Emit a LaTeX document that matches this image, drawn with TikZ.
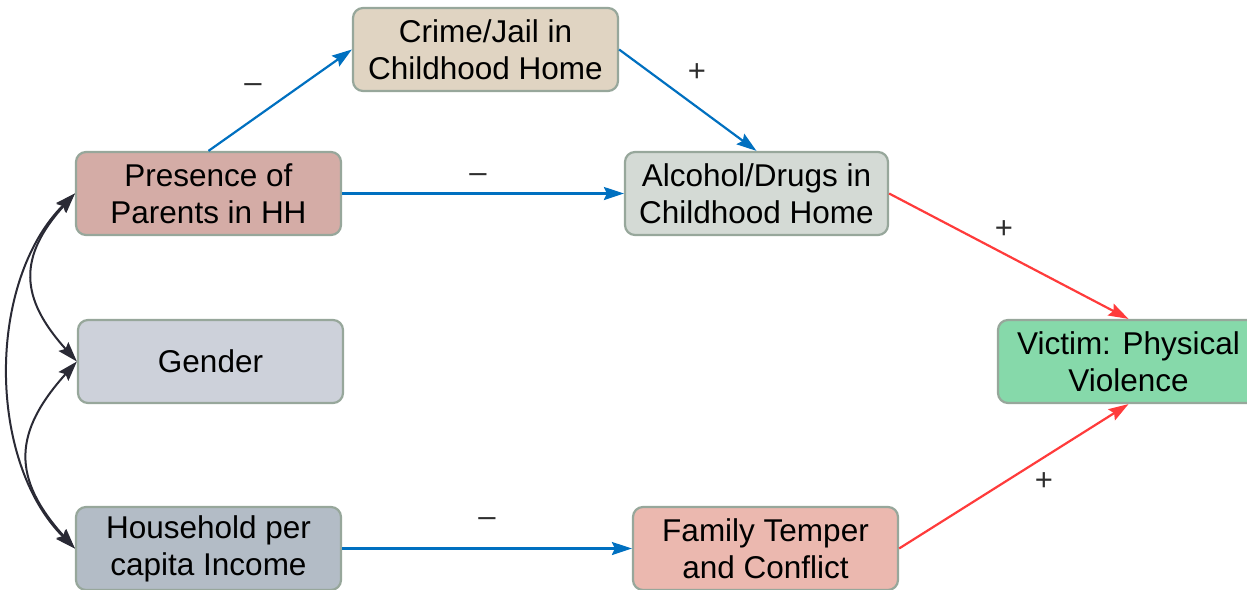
\documentclass[tikz,border=0pt]{standalone}
\usepackage{fontspec}
\setmainfont{Liberation Sans}
\usetikzlibrary{arrows.meta}
\definecolor{edgeblue}{HTML}{0070C0}
\definecolor{edgered}{HTML}{FF3B3B}
\definecolor{edgedark}{HTML}{2A2A35}
\definecolor{boxline}{HTML}{97A79B}
\definecolor{labelgray}{HTML}{2E2E2E}
\tikzset{
  varbox/.style={draw=boxline, line width=2.2pt, rounded corners=10pt,
    minimum width=265pt, minimum height=83pt, inner sep=0pt,
    align=center, font=\fontsize{31.5}{37}\selectfont},
  tiphead/.tip={Stealth[length=20pt,width=13pt,inset=3pt]},
  negpath/.style={-tiphead, draw=edgeblue, line width=2.2pt},
  pospath/.style={-tiphead, draw=edgered, line width=2.2pt},
  corrpath/.style={tiphead-tiphead, draw=edgedark, line width=2pt},
  signlabel/.style={inner sep=0pt, text=labelgray, font=\fontsize{31}{36}\selectfont}
}
\begin{document}
\begin{tikzpicture}[x=1pt,y=-1pt]
  \useasboundingbox (0,0) rectangle (1247,589);
  \begin{scope}
  \clip (0,0) rectangle (1247,589);

  % variables
  \node[varbox, fill={rgb,255:red,224;green,212;blue,194}] (crime) at (485.5,49.5) {Crime/Jail in\\Childhood Home};
  \node[varbox, fill={rgb,255:red,212;green,172;blue,166}] (pres) at (208.5,193.5) {Presence of\\Parents in HH};
  \node[varbox, minimum width=263pt, fill={rgb,255:red,212;green,218;blue,213}] (alc) at (756.5,193.5) {Alcohol/Drugs in\\Childhood Home};
  \node[varbox, fill={rgb,255:red,205;green,209;blue,218}] (gender) at (210.5,361.5) {Gender};
  \node[varbox, minimum width=261pt, fill={rgb,255:red,134;green,217;blue,170}] (victim) at (1128.5,361.5) {Victim: Physical\\Violence};
  \node[varbox, fill={rgb,255:red,179;green,188;blue,198}] (hh) at (208.5,548.5) {Household per\\capita Income};
  \node[varbox, fill={rgb,255:red,235;green,184;blue,175}] (fam) at (765.5,548.5) {Family Temper\\and Conflict};

  % directed effects
  \draw[negpath] (pres.north) -- (crime.west);
  \draw[negpath] (crime.east) -- (alc.north);
  \draw[negpath] (pres.east) -- (alc.west);
  \draw[negpath] (hh.east) -- (fam.west);
  \draw[pospath] (alc.east) -- (victim.north);
  \draw[pospath] (fam.east) -- (victim.south);

  % correlations among exogenous variables
  \draw[corrpath] (pres.west) to[out=228,in=132,looseness=1.3] (gender.west);
  \draw[corrpath] (gender.west) to[out=228,in=132,looseness=1.3] (hh.west);
  \draw[corrpath] (pres.west) to[out=225,in=135,looseness=0.9] (hh.west);

  % signs
  \node[signlabel] (s1) at (253,88) {–};
  \node[signlabel] (s2) at (697,73) {+};
  \node[signlabel] (s3) at (478,178) {–};
  \node[signlabel] (s4) at (1004,230) {+};
  \node[signlabel] (s5) at (1044,482) {+};
  \node[signlabel] (s6) at (487,522) {–};
  \end{scope}
\end{tikzpicture}
\end{document}
